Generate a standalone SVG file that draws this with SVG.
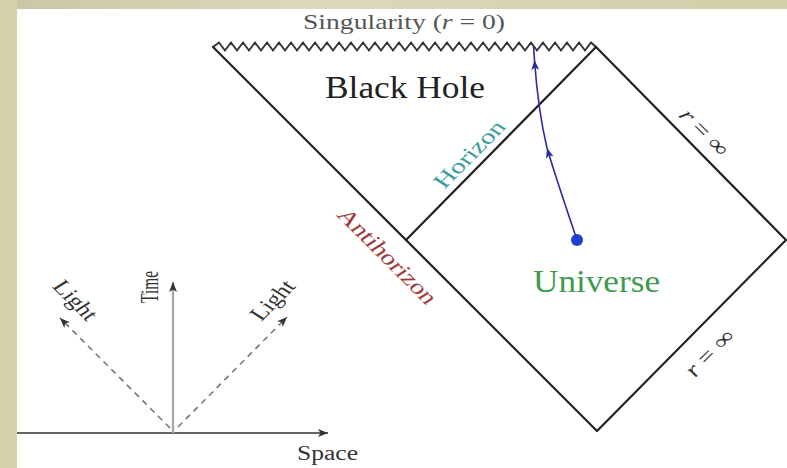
<svg xmlns="http://www.w3.org/2000/svg" width="787" height="468" viewBox="0 0 787 468">
<defs>
<linearGradient id="bandTop" x1="0" y1="0" x2="1" y2="0">
<stop offset="0" stop-color="#cbc6a2"/>
<stop offset="0.4" stop-color="#dcd8bc"/>
<stop offset="1" stop-color="#d3cda8"/>
</linearGradient>
<marker id="arr" markerUnits="userSpaceOnUse" markerWidth="12" markerHeight="10" refX="10" refY="4" orient="auto">
<path d="M0,0 L10,4 L0,8 L2.5,4 Z" fill="#333"/>
</marker>
<marker id="arrBlue" markerUnits="userSpaceOnUse" markerWidth="12" markerHeight="10" refX="10" refY="4" orient="auto">
<path d="M0,0 L10,4 L0,8 L2.5,4 Z" fill="#2a2aa8"/>
</marker>
<style>
.ln{fill:none;stroke:#222;stroke-width:2.2;stroke-linecap:round;stroke-linejoin:round}
.zz{fill:none;stroke:#333;stroke-width:1.9;stroke-linejoin:miter}
.t{font-family:"Liberation Serif","Times New Roman",serif}
.lbl{font-family:"Liberation Serif","Times New Roman",serif;font-size:20px;text-anchor:middle}
.dash{fill:none;stroke:#777;stroke-width:1.6;stroke-dasharray:6 5}
.wl{fill:none;stroke:#2a2aa8;stroke-width:1.6}
</style>
</defs>
<rect x="0" y="0" width="787" height="468" fill="#ffffff"/>
<rect x="0" y="0" width="787" height="9" fill="url(#bandTop)"/>
<rect x="0" y="0" width="17" height="468" fill="#d6d0ac"/>

<g id="penrose">
<polyline class="zz" points="213,47 219,42.5 225,50.5 231,42.5 237,50.5 243,42.5 249,50.5 255,42.5 261,50.5 267,42.5 273,50.5 279,42.5 285,50.5 291,42.5 297,50.5 303,42.5 309,50.5 315,42.5 321,50.5 327,42.5 333,50.5 339,42.5 345,50.5 351,42.5 357,50.5 363,42.5 369,50.5 375,42.5 381,50.5 387,42.5 393,50.5 399,42.5 405,50.5 411,42.5 417,50.5 423,42.5 429,50.5 435,42.5 441,50.5 447,42.5 453,50.5 459,42.5 465,50.5 471,42.5 477,50.5 483,42.5 489,50.5 495,42.5 501,50.5 507,42.5 513,50.5 519,42.5 525,50.5 531,42.5 537,50.5 543,42.5 549,50.5 555,42.5 561,50.5 567,42.5 573,50.5 579,42.5 585,50.5 591,42.5 596,47"/>
<path class="ln" d="M213,47 L597,431 L786,240 L596,47"/>
<path id="horizon-line" class="ln" d="M406,240 L596,47"/>
</g>

<g id="connectors">
<path class="wl" d="M577,240 Q556,178 547,148" marker-end="url(#arrBlue)"/>
<path class="wl" d="M547,148 Q538,110 534.5,60" marker-end="url(#arrBlue)"/>
<path class="wl" d="M534.5,60 L533.5,46"/>
<line x1="17" y1="433" x2="328" y2="433" stroke="#666" stroke-width="1.8" marker-end="url(#arr)"/>
<line x1="173" y1="433" x2="173" y2="282" stroke="#a8a8a8" stroke-width="2.4" marker-end="url(#arr)"/>
<line class="dash" x1="170" y1="428" x2="60" y2="318" marker-end="url(#arr)"/>
<line class="dash" x1="178" y1="427" x2="287" y2="317" marker-end="url(#arr)"/>
</g>

<g id="observer">
<circle cx="577" cy="240" r="6" fill="#1f3fcf"/>
</g>

<g id="singularity-label">
<text class="t" x="303" y="29" font-size="22" fill="#555" textLength="202" lengthAdjust="spacingAndGlyphs">Singularity (<tspan font-style="italic">r</tspan> = 0)</text>
</g>
<g id="black-hole">
<text class="t" x="325" y="98" font-size="32" fill="#222" textLength="160" lengthAdjust="spacingAndGlyphs">Black Hole</text>
</g>
<g id="universe">
<text class="t" x="533" y="292" font-size="32" fill="#3f9a50" textLength="127" lengthAdjust="spacingAndGlyphs">Universe</text>
</g>
<g id="horizon-label">
<text class="lbl" transform="translate(469,154) scale(1.25,1) rotate(-51.3)" y="7" fill="#3d9e9e" textLength="80" lengthAdjust="spacingAndGlyphs">Horizon</text>
</g>
<g id="antihorizon-label">
<text class="lbl" transform="translate(388,256) scale(1.25,1) rotate(51.3)" y="7" fill="#a03a3a" textLength="116" lengthAdjust="spacingAndGlyphs">Antihorizon</text>
</g>
<g id="r-inf-upper">
<text class="lbl" transform="translate(705,132) scale(1.25,1) rotate(51.3)" y="7" fill="#333" textLength="53" lengthAdjust="spacingAndGlyphs"><tspan font-style="italic">r</tspan> = ∞</text>
</g>
<g id="r-inf-lower">
<text class="lbl" transform="translate(709,353) scale(1.25,1) rotate(-51.3)" y="7" fill="#333" textLength="53" lengthAdjust="spacingAndGlyphs"><tspan font-style="italic">r</tspan> = ∞</text>
</g>
<g id="light-left">
<text class="lbl" transform="translate(76,300) scale(1.25,1) rotate(51.3)" y="7" fill="#333" textLength="45" lengthAdjust="spacingAndGlyphs">Light</text>
</g>
<g id="light-right">
<text class="lbl" transform="translate(272,300) scale(1.25,1) rotate(-51.3)" y="7" fill="#333" textLength="45" lengthAdjust="spacingAndGlyphs">Light</text>
</g>
<g id="time-label">
<text class="lbl" transform="translate(151,287) scale(1.3,1) rotate(-90)" y="5" font-size="16" fill="#333" textLength="32" lengthAdjust="spacingAndGlyphs">Time</text>
</g>
<g id="space-label">
<text class="t" x="297" y="460" font-size="20" fill="#333" textLength="61" lengthAdjust="spacingAndGlyphs">Space</text>
</g>
</svg>
